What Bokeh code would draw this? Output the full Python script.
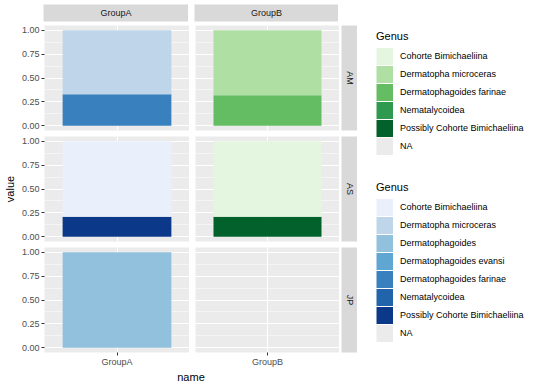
import math
from bokeh.plotting import figure
from bokeh.layouts import row, column
from bokeh.models import (FactorRange, Range1d, FixedTicker, CategoricalTicker,
                          Grid, NumeralTickFormatter, Legend, LegendItem, ColumnDataSource)
from bokeh.core.properties import value
from bokeh.embed import file_html
from bokeh.resources import INLINE

FONT = "Liberation Sans"

facet_rows = ["AM", "AS", "JP"]
facet_cols = ["GroupA", "GroupB"]

blue_genus = ["Cohorte Bimichaeliina", "Dermatopha microceras", "Dermatophagoides",
              "Dermatophagoides evansi", "Dermatophagoides farinae", "Nematalycoidea",
              "Possibly Cohorte Bimichaeliina", "NA"]
blue_colors = ["#e9effb", "#bed5ea", "#92c1de", "#60a6d3", "#3880be", "#2264ab", "#0c388a", "#ebebeb"]

green_genus = ["Cohorte Bimichaeliina", "Dermatopha microceras", "Dermatophagoides farinae",
               "Nematalycoidea", "Possibly Cohorte Bimichaeliina", "NA"]
green_colors = ["#e5f6e0", "#b0dfa4", "#64bc63", "#2e9a4f", "#03612b", "#ebebeb"]

bar_row = ["AM", "AM", "AM", "AM", "AS", "AS", "AS", "AS", "JP"]
bar_col = ["GroupA", "GroupA", "GroupB", "GroupB", "GroupA", "GroupA", "GroupB", "GroupB", "GroupA"]
bar_genus = ["Dermatopha microceras", "Dermatophagoides farinae",
             "Dermatopha microceras", "Dermatophagoides farinae",
             "Cohorte Bimichaeliina", "Possibly Cohorte Bimichaeliina",
             "Cohorte Bimichaeliina", "Possibly Cohorte Bimichaeliina",
             "Dermatophagoides"]
bar_value = [0.67, 0.33, 0.68, 0.32, 0.79, 0.21, 0.79, 0.21, 1.0]

y_ticks = [0, 0.25, 0.5, 0.75, 1.0]
y_minor = [0.125, 0.375, 0.625, 0.875]

PANEL_H = 105
PANEL_W = {"GroupA": 145, "GroupB": 144}
NAN = float("nan")


def base_fig(**kw):
    opts = dict(output_backend="svg", toolbar_location=None, tools="",
                min_border_left=0, min_border_right=0, min_border_top=0, min_border_bottom=0)
    opts.update(kw)
    p = figure(**opts)
    p.outline_line_color = None
    p.border_fill_color = "white"
    return p


def blank_fig(**kw):
    p = base_fig(x_range=Range1d(0, 1), y_range=Range1d(0, 1),
                 x_axis_location=None, y_axis_location=None, **kw)
    p.center = [r for r in p.center if not isinstance(r, Grid)]
    return p


def make_panel(r, c, left_axis, bottom_axis):
    genus_list, colors = (blue_genus, blue_colors) if c == "GroupA" else (green_genus, green_colors)
    idx = [i for i in range(len(bar_row)) if bar_row[i] == r and bar_col[i] == c]
    idx.sort(key=lambda i: genus_list.index(bar_genus[i]), reverse=True)
    xs, bottoms, tops, fills = [], [], [], []
    acc = 0.0
    for i in idx:
        xs.append(c)
        bottoms.append(acc)
        acc += bar_value[i]
        tops.append(acc)
        fills.append(colors[genus_list.index(bar_genus[i])])

    p = base_fig(x_range=FactorRange(factors=[c], range_padding=0.2),
                 y_range=Range1d(-0.05, 1.05),
                 frame_width=PANEL_W[c], frame_height=PANEL_H,
                 min_border_left=25 if left_axis else 6,
                 min_border_bottom=15 if bottom_axis else 6,
                 x_axis_location="below" if bottom_axis else None,
                 y_axis_location="left" if left_axis else None)
    p.background_fill_color = "#ebebeb"
    p.center = [g for g in p.center if not isinstance(g, Grid)]
    p.add_layout(Grid(dimension=1, ticker=FixedTicker(ticks=y_ticks, minor_ticks=y_minor),
                      grid_line_color="white", grid_line_width=1.1,
                      minor_grid_line_color="white", minor_grid_line_width=0.5), "center")
    p.add_layout(Grid(dimension=0, ticker=CategoricalTicker(),
                      grid_line_color="white", grid_line_width=1.1), "center")

    src = ColumnDataSource(dict(x=xs, bottom=bottoms, top=tops, fill=fills))
    p.vbar(x="x", bottom="bottom", top="top", width=0.9, fill_color="fill",
           line_color=None, source=src)

    for ax in p.yaxis:
        ax.ticker = FixedTicker(ticks=y_ticks)
        ax.formatter = NumeralTickFormatter(format="0.00")
    for ax in list(p.yaxis) + list(p.xaxis):
        ax.axis_line_color = None
        ax.major_tick_in = 0
        ax.major_tick_out = 3
        ax.major_tick_line_color = "#333333"
        ax.minor_tick_line_color = None
        ax.major_label_text_color = "#4d4d4d"
        ax.major_label_text_font = FONT
        ax.major_label_text_font_size = "9px"
        ax.major_label_standoff = 2
    for ax in p.xaxis:
        ax.major_label_standoff = 1
    return p


def top_strip(c, first):
    p = blank_fig(frame_width=PANEL_W[c], frame_height=17, min_border_top=4,
                  min_border_left=25 if first else 6, min_border_bottom=4)
    p.background_fill_color = "#d9d9d9"
    p.text(x=[0.5], y=[0.5], text=[c], text_align="center", text_baseline="middle",
           text_font=value(FONT), text_font_size=value("9px"), text_color="#1a1a1a")
    return p


def right_strip(r, bottom):
    p = blank_fig(frame_width=16, frame_height=PANEL_H, min_border_left=2, min_border_bottom=bottom)
    p.background_fill_color = "#d9d9d9"
    p.text(x=[0.5], y=[0.5], text=[r], angle=-math.pi / 2, text_align="center",
           text_baseline="middle", text_font=value(FONT), text_font_size=value("9px"),
           text_color="#1a1a1a")
    return p


def legend_fig(genus_list, colors, top_border, frame_h):
    p = blank_fig(frame_width=165, frame_height=frame_h, min_border_left=19,
                  min_border_top=top_border)
    items = []
    for g, col in zip(genus_list, colors):
        # key-only proxy renderer: one NaN segment (draws nothing in the plot area)
        src = ColumnDataSource(dict(x0=[NAN], y0=[NAN], x1=[NAN], y1=[NAN]))
        rr = p.segment(x0="x0", y0="y0", x1="x1", y1="y1", source=src,
                       line_color=col, line_width=17, line_cap="butt")
        items.append(LegendItem(label=g, renderers=[rr]))
    leg = Legend(items=items, location="top_left", title="Genus",
                 title_text_font=FONT, title_text_font_size="11px", title_text_color="black",
                 title_text_font_style="normal", title_standoff=5,
                 label_text_font=FONT, label_text_font_size="9px", label_text_color="black",
                 glyph_width=17, glyph_height=18, label_height=18, label_standoff=7,
                 spacing=0, padding=0, margin=0,
                 border_line_color=None, background_fill_alpha=0)
    p.add_layout(leg)
    return p


rows_layout = [row(top_strip("GroupA", True), top_strip("GroupB", False))]
for ri, r in enumerate(facet_rows):
    last = ri == len(facet_rows) - 1
    pa = make_panel(r, "GroupA", True, last)
    pb = make_panel(r, "GroupB", False, last)
    rs = right_strip(r, 15 if last else 6)
    rows_layout.append(row(pa, pb, rs))

name_fig = blank_fig(frame_width=295, frame_height=14, min_border_left=25, min_border_bottom=5)
name_fig.text(x=[0.5], y=[0.5], text=["name"], text_align="center", text_baseline="middle",
              text_font=value(FONT), text_font_size=value("11px"), text_color="black")
rows_layout.append(name_fig)
mid = column(*rows_layout)

value_fig = blank_fig(frame_width=18, frame_height=327, min_border_top=25, min_border_bottom=34)
value_fig.text(x=[0.5], y=[0.5], text=["value"], angle=math.pi / 2, text_align="center",
               text_baseline="middle", text_font=value(FONT), text_font_size=value("11px"),
               text_color="black")

legends = column(legend_fig(green_genus, green_colors, 30, 140),
                 legend_fig(blue_genus, blue_colors, 11, 205))

layout = row(value_fig, mid, legends)

open("out.html", "w").write(file_html(layout, INLINE))
